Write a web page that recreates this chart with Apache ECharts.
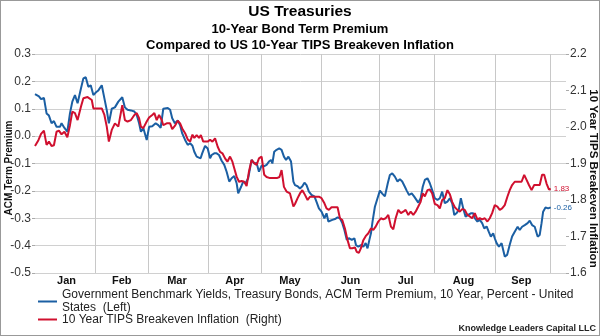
<!DOCTYPE html>
<html><head><meta charset="utf-8">
<script src="https://cdn.jsdelivr.net/npm/echarts@6/dist/echarts.min.js"></script>
<style>
html,body{margin:0;padding:0;background:#fff}
#c{width:600px;height:336px;position:absolute;left:0;top:0}
#frame{position:absolute;left:0;top:0;width:600px;height:336px;box-sizing:border-box;border:1px solid #999;pointer-events:none}
</style>
</head><body><div id="c"></div><div id="frame"></div><script>
// x = weekday index counted from Fri 30 Dec 2016 (index 0)
const startDate = '2016-12-30';
const endDate = '2017-10-10';
const monthNames = ['Jan','Feb','Mar','Apr','May','Jun','Jul','Aug','Sep'];
const leftTicks = {min: -0.5, max: 0.3, step: 0.1};
const rightTicks = {min: 1.6, max: 2.2, step: 0.1};
const blueName = 'Government Benchmark Yields, Treasury Bonds, ACM Term Premium, 10 Year, Percent - United States  (Left)';
const redName = '10 Year TIPS Breakeven Inflation  (Right)';

// ACM term premium, percent (left axis)
const acmPoints = [
[0,0.153],[1.5,0.145],[2.3,0.135],[3.4,0.14],[4.4,0.083],[5.3,0.075],[6.3,0.047],[7.2,0.055],[8.2,0.034],[9.5,0.034],
[10.1,0.047],[11.2,0.03],[12.3,0.016],[13.3,0.083],[14.2,0.126],[15.2,0.15],[16.2,0.12],[17.5,0.175],[18.4,0.211],[19.3,0.215],
[20.3,0.18],[21.2,0.186],[22.2,0.15],[23.2,0.16],[24.1,0.167],[25.4,0.186],[26.4,0.138],[27.3,0.095],[28.1,0.047],[29.2,0.1],
[30.4,0.105],[31.7,0.126],[33.2,0.142],[34.2,0.105],[35.2,0.096],[36.5,0.094],[37.8,0.09],[38.7,0.077],[39.6,0.047],[40.3,0.016],
[41.2,0.03],[42.5,-0.014],[43.4,0.034],[44.6,0.036],[45.9,0.047],[46.9,0.04],[47.8,0.03],[48.8,0.1],[49.5,0.1],[50.5,0.103],
[51.4,0.096],[52.2,0.065],[53.2,0.047],[54.3,0.057],[55.2,0.04],[56.0,0.01],[57.1,-0.014],[58.1,-0.032],[59.0,-0.026],[59.9,-0.035],
[60.6,-0.057],[61.5,-0.075],[62.1,-0.069],[63.0,-0.081],[63.6,-0.063],[64.7,-0.036],[65.7,-0.045],[66.6,-0.081],[67.2,-0.069],[68.2,-0.063],
[69.1,-0.063],[70.0,-0.069],[71.0,-0.09],[72.0,-0.105],[72.9,-0.13],[73.9,-0.166],[74.8,-0.154],[75.8,-0.146],[76.7,-0.172],[77.3,-0.209],
[78.4,-0.185],[79.2,-0.166],[80.1,-0.172],[81.1,-0.154],[82.4,-0.087],[83.4,-0.1],[84.3,-0.098],[85.2,-0.13],[86.2,-0.108],[87.2,-0.11],
[88.1,-0.105],[89.0,-0.093],[89.8,-0.087],[90.3,-0.1],[91.0,-0.057],[91.9,-0.05],[92.9,-0.045],[93.8,-0.05],[94.7,-0.075],[95.5,-0.087],
[96.4,-0.075],[97.4,-0.093],[98.3,-0.166],[98.9,-0.179],[99.9,-0.183],[100.8,-0.191],[101.7,-0.183],[102.5,-0.17],[103.3,-0.179],[104.2,-0.203],
[105.2,-0.215],[106.3,-0.22],[107.1,-0.24],[108.0,-0.264],[109.0,-0.276],[110.1,-0.3],[110.9,-0.282],[111.6,-0.312],[112.2,-0.318],[113.1,-0.306],
[114.1,-0.303],[115.1,-0.297],[116.0,-0.3],[116.9,-0.318],[117.7,-0.343],[118.6,-0.379],[119.4,-0.373],[120.5,-0.379],[121.5,-0.373],[122.1,-0.398],
[123.0,-0.404],[124.0,-0.398],[124.9,-0.404],[125.8,-0.391],[126.5,-0.41],[127.2,-0.379],[127.8,-0.355],[128.4,-0.312],[129.3,-0.258],[130.3,-0.227],
[131.2,-0.199],[132.1,-0.21],[133.1,-0.22],[134.2,-0.172],[135.0,-0.142],[135.9,-0.136],[136.9,-0.148],[137.9,-0.166],[138.8,-0.157],[139.7,-0.166],
[140.7,-0.185],[141.4,-0.199],[142.3,-0.215],[143.3,-0.209],[144.2,-0.22],[144.9,-0.215],[145.8,-0.243],[146.7,-0.227],[147.5,-0.185],[148.3,-0.16],
[149.3,-0.154],[150.2,-0.172],[151.1,-0.197],[152.1,-0.227],[153.1,-0.233],[154.0,-0.227],[154.9,-0.203],[155.9,-0.245],[156.9,-0.239],[157.8,-0.227],
[158.7,-0.245],[159.5,-0.288],[160.3,-0.282],[161.2,-0.27],[162.0,-0.227],[162.9,-0.264],[163.8,-0.294],[164.8,-0.288],[165.8,-0.282],[166.7,-0.282],
[167.3,-0.3],[168.3,-0.312],[169.2,-0.306],[170.1,-0.318],[170.9,-0.337],[171.8,-0.33],[172.6,-0.349],[173.4,-0.367],[174.3,-0.355],[174.9,-0.373],
[175.6,-0.391],[176.5,-0.404],[177.5,-0.391],[178.1,-0.397],[178.7,-0.44],[179.6,-0.434],[180.6,-0.397],[181.5,-0.367],[182.5,-0.349],[183.6,-0.331],
[184.4,-0.343],[185.3,-0.331],[186.3,-0.325],[187.4,-0.318],[188.2,-0.309],[189.1,-0.325],[190.1,-0.331],[191.2,-0.367],[192.0,-0.361],[192.7,-0.318],
[193.3,-0.276],[194.2,-0.261],[195.2,-0.264],[196.2,-0.26]
];

// 10Y TIPS breakeven inflation, percent (right axis)
const tipsPoints = [
[0,1.948],[1.3,1.964],[2.3,1.981],[3.4,1.99],[4.4,1.951],[5.3,1.96],[6.3,1.948],[7.2,1.95],[8.2,1.987],[9.1,1.99],
[10.1,1.98],[11.2,1.987],[12.3,1.972],[13.3,2.005],[14.2,2.042],[15.2,2.038],[16.2,2.019],[17.5,2.056],[18.4,2.079],[20.0,2.082],
[21.6,2.074],[22.2,2.051],[24.1,2.051],[25.4,2.051],[26.4,2.033],[27.3,2.001],[28.1,1.96],[29.2,1.992],[30.4,2.01],[31.7,2.001],
[33.2,2.06],[34.2,2.019],[35.2,2.015],[36.5,2.019],[37.8,2.033],[38.7,2.038],[39.6,2.024],[40.3,2.001],[41.2,1.997],[42.5,2.015],
[43.4,2.026],[44.6,2.033],[45.4,2.038],[46.3,2.019],[47.2,2.033],[48.2,2.019],[48.8,2.005],[50.1,2.01],[51.4,2.01],[52.2,1.994],
[53.2,2.003],[54.3,2.017],[55.2,2.01],[56.0,1.996],[57.1,1.983],[58.1,1.966],[59.0,1.96],[59.9,1.979],[60.6,1.97],[61.5,1.978],
[62.4,1.97],[63.1,1.978],[64.0,1.96],[64.7,1.965],[65.7,1.96],[66.6,1.965],[67.5,1.96],[68.5,1.969],[69.5,1.946],[70.4,1.932],
[71.3,1.928],[72.3,1.914],[73.2,1.905],[74.2,1.919],[75.1,1.905],[75.8,1.887],[76.7,1.864],[77.6,1.85],[78.6,1.852],[79.6,1.85],
[80.5,1.838],[81.4,1.878],[82.4,1.91],[83.4,1.901],[84.3,1.896],[85.2,1.914],[86.2,1.919],[87.2,1.869],[88.1,1.863],[89.4,1.86],
[90.7,1.86],[92.0,1.86],[93.0,1.863],[93.8,1.882],[94.7,1.836],[95.7,1.823],[97.0,1.818],[98.3,1.782],[98.9,1.789],[99.9,1.805],
[100.8,1.818],[101.7,1.827],[102.7,1.814],[103.7,1.8],[104.6,1.809],[105.5,1.809],[106.8,1.809],[108.0,1.809],[109.0,1.805],[110.1,1.791],
[110.9,1.777],[111.8,1.773],[112.8,1.78],[113.9,1.78],[115.1,1.78],[116.0,1.75],[116.9,1.745],[117.9,1.722],[118.9,1.69],[119.8,1.668],
[120.7,1.668],[121.7,1.67],[122.4,1.658],[123.2,1.655],[124.0,1.668],[124.9,1.69],[125.8,1.701],[126.8,1.709],[127.8,1.722],[128.7,1.718],
[129.6,1.727],[130.6,1.741],[131.6,1.75],[132.5,1.747],[133.4,1.75],[134.4,1.759],[135.4,1.727],[136.3,1.72],[137.2,1.75],[138.2,1.773],
[139.2,1.764],[140.1,1.768],[141.0,1.773],[142.0,1.759],[142.9,1.768],[143.9,1.759],[144.8,1.768],[145.8,1.782],[146.7,1.795],[147.5,1.818],
[148.3,1.81],[149.3,1.827],[150.2,1.829],[151.1,1.818],[152.1,1.789],[153.1,1.786],[154.0,1.777],[154.9,1.8],[155.9,1.805],[156.9,1.827],
[157.8,1.816],[158.7,1.795],[159.7,1.78],[160.7,1.773],[161.6,1.768],[162.5,1.775],[163.5,1.773],[164.5,1.759],[165.4,1.755],[166.3,1.75],
[167.3,1.764],[168.3,1.747],[169.2,1.75],[170.1,1.747],[171.1,1.75],[172.1,1.741],[173.0,1.75],[173.9,1.764],[174.9,1.786],[175.9,1.782],
[176.8,1.773],[177.7,1.777],[178.7,1.786],[179.7,1.809],[180.6,1.827],[181.5,1.841],[182.5,1.85],[183.8,1.85],[185.1,1.85],[186.1,1.869],
[187.0,1.855],[187.9,1.841],[188.9,1.827],[189.9,1.841],[191.2,1.841],[192.0,1.841],[192.9,1.869],[193.7,1.869],[194.6,1.845],[195.5,1.829],
[196.2,1.83]
];

// ---- build weekday category list for the month grid / labels
const days = [];
(function(){
  const d = new Date(startDate + 'T00:00:00Z'), e = new Date(endDate + 'T00:00:00Z');
  while (d <= e) {
    const w = d.getUTCDay();
    if (w !== 0 && w !== 6) days.push(d.toISOString().slice(0,10));
    d.setUTCDate(d.getUTCDate() + 1);
  }
})();
const monthStartDates = new Set();
const monthMidDates = {};
(function(){
  const starts = [];
  for (let i = 1; i < days.length; i++) {
    if (days[i].slice(5,7) !== days[i-1].slice(5,7)) starts.push(i);
  }
  starts.forEach((s, k) => {
    if (days[s].slice(5,7) !== '01') monthStartDates.add(days[s]);
    if (k < starts.length - 1) {
      const m = parseInt(days[s].slice(5,7), 10);
      if (m <= monthNames.length) monthMidDates[days[Math.floor((s + starts[k+1]) / 2)]] = monthNames[m-1];
    }
  });
})();

const FONT = '"Liberation Sans", Arial, sans-serif';
const BLUE = '#1b5fa3';
const RED = '#d0102f';
const chart = echarts.init(document.getElementById('c'), null, {renderer: 'canvas'});
chart.setOption({
  animation: false,
  backgroundColor: '#fff',
  textStyle: {fontFamily: FONT},
  title: [
    {text: 'US Treasuries', left: 'center', top: 4, padding: 0,
     textStyle: {fontSize: 15.5, fontWeight: 'bold', color: '#000', fontFamily: FONT}},
    {text: '10-Year Bond Term Premium', left: 'center', top: 23, padding: 0,
     textStyle: {fontSize: 13, fontWeight: 'bold', color: '#000', fontFamily: FONT}},
    {text: 'Compared to US 10-Year TIPS Breakeven Inflation', left: 'center', top: 38.5, padding: 0,
     textStyle: {fontSize: 13, fontWeight: 'bold', color: '#000', fontFamily: FONT}},
    {text: 'Knowledge Leaders Capital LLC', right: 4, bottom: 3, padding: 0,
     textStyle: {fontSize: 9, fontWeight: 'bold', color: '#222', fontFamily: FONT}}
  ],
  legend: [
    {data: [blueName], left: 38, top: 282, padding: 0, orient: 'vertical', icon: 'rect',
     itemWidth: 19, itemHeight: 2, itemGap: 0,
     formatter: () => 'Government Benchmark Yields, Treasury Bonds, ACM Term Premium, 10 Year, Percent - United\nStates  (Left)',
     textStyle: {fontSize: 12, color: '#222', lineHeight: 13, padding: [13, 0, 0, 0], fontFamily: FONT}},
    {data: [redName], left: 38, top: 313, padding: 0, orient: 'vertical', icon: 'rect',
     itemWidth: 19, itemHeight: 2,
     textStyle: {fontSize: 12, color: '#222', lineHeight: 13, fontFamily: FONT}}
  ],
  grid: {left: 35, right: 34, top: 54, bottom: 63, containLabel: false, outerBoundsMode: 'none'},
  xAxis: [
    {type: 'value', min: 0, max: days.length - 1, show: false, position: 'bottom'},
    {type: 'category', data: days, boundaryGap: false, min: 0, max: days.length - 1, position: 'bottom',
     axisLine: {show: false}, axisTick: {show: false},
     splitLine: {show: true, interval: (i, v) => monthStartDates.has(v), lineStyle: {color: '#c8c8c8', width: 1}},
     axisLabel: {interval: (i, v) => monthMidDates[v] !== undefined, formatter: (v) => monthMidDates[v] || '',
       hideOverlap: false,
       fontSize: 11, fontWeight: 'bold', color: '#111', margin: 2, fontFamily: FONT}}
  ],
  yAxis: [
    {type: 'value', min: leftTicks.min, max: leftTicks.max, interval: leftTicks.step, position: 'left',
     name: 'ACM Term Premium', nameLocation: 'middle', nameGap: 21, nameMoveOverlap: false,
     nameTextStyle: {fontSize: 10, fontWeight: 'bold', color: '#111', padding: [0, 9, 0, 0], fontFamily: FONT},
     axisLine: {show: false}, axisTick: {show: true, length: 3, lineStyle: {color: '#aaa'}},
     axisLabel: {formatter: v => v.toFixed(1), fontSize: 12, color: '#333', margin: 4, fontFamily: FONT},
     splitLine: {show: true, lineStyle: {color: '#d0d0d0', width: 1}}},
    {type: 'value', min: rightTicks.min, max: rightTicks.max, interval: rightTicks.step, position: 'right',
     name: '10 Year TIPS Breakeven Inflation', nameLocation: 'middle', nameGap: 21, nameRotate: -90, nameMoveOverlap: false,
     nameTextStyle: {fontSize: 11.5, fontWeight: 'bold', color: '#111', padding: [0, 0, 0, 30], fontFamily: FONT},
     axisLine: {show: false}, axisTick: {show: true, length: 3, lineStyle: {color: '#aaa'}},
     axisLabel: {formatter: v => v.toFixed(1), fontSize: 12, color: '#333', margin: 4, fontFamily: FONT},
     splitLine: {show: false}}
  ],
  series: [
    {name: blueName, type: 'line', xAxisIndex: 0, yAxisIndex: 0, data: acmPoints,
     showSymbol: false, symbol: 'none', lineStyle: {color: BLUE, width: 2}, itemStyle: {color: BLUE},
     endLabel: {show: true, formatter: p => p.value[1].toFixed(2), fontSize: 8, color: BLUE, distance: 3, fontFamily: FONT}},
    {name: redName, type: 'line', xAxisIndex: 0, yAxisIndex: 1, data: tipsPoints,
     showSymbol: false, symbol: 'none', lineStyle: {color: RED, width: 2}, itemStyle: {color: RED},
     endLabel: {show: true, formatter: p => p.value[1].toFixed(2), fontSize: 8, color: RED, distance: 3, fontFamily: FONT}}
  ]
});
</script></body></html>
